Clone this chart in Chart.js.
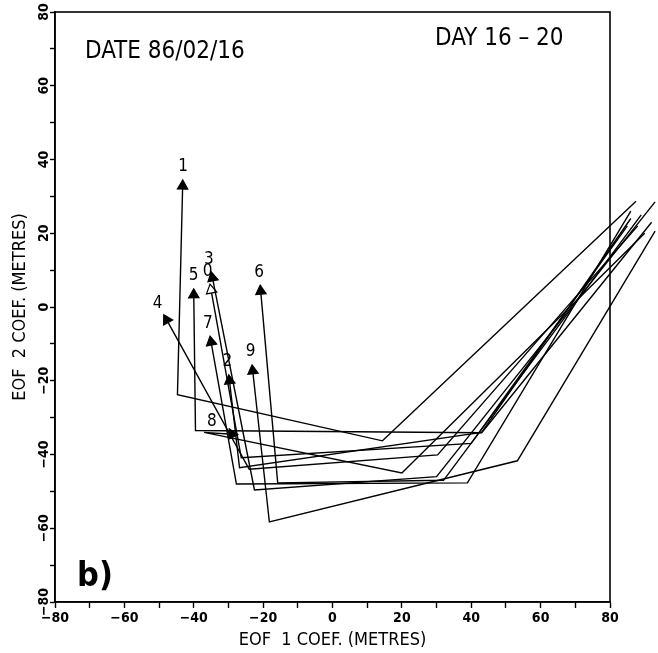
<!DOCTYPE html>
<html>
<head>
<meta charset="utf-8">
<script src="https://cdn.jsdelivr.net/npm/chart.js@4/dist/chart.umd.min.js"></script>
<style>
  html, body { margin: 0; background: #fff; }
  #wrap { width: 658px; height: 653px; }
</style>
</head>
<body>
<div id="wrap"><canvas id="eof-chart"></canvas></div>
<script>
// Trajektorie (den 16 -> 20)
const trackNames = ['1', '2', '3', '4', '5', '6', '7', '8', '9', '0'];
const eof1Coef = [
    [87.5, 14.4, -44.7, -43.2],
    [86, 43, -26.8, -29.7],
    [93, 30, -22.5, -34.6],
    [88, 30.3, -24, -47.8],
    [92, 43, -39.5, -40],
    [89, 32, -15.8, -20.7],
    [86, 38.9, -27.7, -35],
    [90, 20, -37, -29],
    [93, 53.3, -18.2, -23],
    [85, 40, -26.3, -35]
];
const eof2Coef = [
    [28.7, -36.3, -23.8, 32.8],
    [24, -34, -43.6, -20],
    [28.5, -46, -49.6, 7.9],
    [22, -40.1, -44, -3.5],
    [23, -34.1, -33.5, 3.3],
    [25, -47, -47.7, 4.3],
    [26, -47.7, -48, -9.5],
    [20, -45, -34, -34.5],
    [20.6, -41.7, -58.3, -17.3],
    [22, -37, -40.9, 4.6]
];
const axisTicks = [-80, -60, -40, -20, 0, 20, 40, 60, 80];
const hollowTracks = ['0'];

const FONT = '"DejaVu Sans Condensed", "DejaVu Sans", sans-serif';

function fmt(v) {
    return v < 0 ? '\u2212' + Math.abs(v) : String(v);
}

// Úhel šipky z posledního úseku trajektorie
function arrowAngle(chart, ds) {
    const n = ds.data.length;
    const a = ds.data[n - 2], b = ds.data[n - 1];
    const xs = chart.scales.x, ys = chart.scales.y;
    const dx = xs.getPixelForValue(b.x) - xs.getPixelForValue(a.x);
    const dy = ys.getPixelForValue(b.y) - ys.getPixelForValue(a.y);
    return { deg: Math.atan2(dx, -dy) * 180 / Math.PI, dx: dx, dy: dy };
}

const datasets = trackNames.map((name, i) => {
    const hollow = hollowTracks.includes(name);
    return {
        label: name,
        data: eof1Coef[i].map((x, j) => ({ x: x, y: eof2Coef[i][j] })),
        showLine: true,
        borderColor: '#000',
        borderWidth: 1.4,
        clip: false,
        pointStyle: 'triangle',
        pointBackgroundColor: hollow ? '#fff' : '#000',
        pointBorderColor: '#000',
        pointBorderWidth: 1.2,
        pointRadius: ctx => ctx.dataIndex === ctx.dataset.data.length - 1 ? 6 : 0,
        pointHoverRadius: 0,
        pointRotation: ctx => {
            if (ctx.dataIndex !== ctx.dataset.data.length - 1) return 0;
            return arrowAngle(ctx.chart, ctx.dataset).deg;
        }
    };
});

// Popisky čísel trajektorií, text v rozích a otočené popisky osy y
const annotationPlugin = {
    id: 'annotations',
    afterDatasetsDraw(chart) {
        const ctx = chart.ctx;
        const area = chart.chartArea;
        const xs = chart.scales.x, ys = chart.scales.y;
        ctx.save();
        ctx.fillStyle = '#000';
        ctx.strokeStyle = '#000';

        // rámeček
        ctx.lineWidth = 1.6;
        ctx.strokeRect(area.left, area.top, area.right - area.left, area.bottom - area.top);

        // čísla trajektorií
        ctx.font = '17px ' + FONT;
        ctx.textAlign = 'center';
        ctx.textBaseline = 'middle';
        chart.data.datasets.forEach(ds => {
            const last = ds.data[ds.data.length - 1];
            const px = xs.getPixelForValue(last.x);
            const py = ys.getPixelForValue(last.y);
            const ang = arrowAngle(chart, ds);
            const len = Math.hypot(ang.dx, ang.dy) || 1;
            let ox, oy;
            if (ang.dy > 0) {
                ox = -20; oy = -13;
            } else {
                ox = ang.dx / len * 19;
                oy = ang.dy / len * 19;
            }
            ctx.fillText(ds.label, px + ox, py + oy);
        });

        // texty v grafu
        ctx.textAlign = 'left';
        ctx.textBaseline = 'alphabetic';
        ctx.font = '24px ' + FONT;
        ctx.fillText('DATE 86/02/16', area.left + 30, area.top + 46);
        ctx.fillText('DAY 16 \u2013 20', area.left + 380, area.top + 33);
        ctx.font = 'bold 34px ' + FONT;
        ctx.fillText('b)', area.left + 22, area.bottom - 16);

        // popisky osy y (otočené)
        ctx.font = 'bold 14px ' + FONT;
        ctx.textAlign = 'center';
        ctx.textBaseline = 'middle';
        axisTicks.forEach(v => {
            const py = ys.getPixelForValue(v);
            ctx.save();
            ctx.translate(area.left - 11, py);
            ctx.rotate(-Math.PI / 2);
            ctx.fillText(fmt(v), 0, 0);
            ctx.restore();
        });
        ctx.restore();
    }
};

const canvas = document.getElementById('eof-chart');
if (typeof Chart !== 'undefined') {
    canvas._chart = new Chart(canvas.getContext('2d'), {
        type: 'scatter',
        data: { datasets: datasets },
        options: {
            responsive: true,
            maintainAspectRatio: false,
            animation: false,
            events: [],
            layout: { padding: { top: 12, right: 48, left: 0, bottom: 0 } },
            plugins: {
                legend: { display: false },
                tooltip: { enabled: false }
            },
            scales: {
                x: {
                    type: 'linear',
                    min: -80,
                    max: 80,
                    afterFit: scale => { scale.height = 51; },
                    border: { display: true, color: '#000', width: 1.6 },
                    grid: { display: true, drawOnChartArea: false, color: '#000', tickLength: 6, tickWidth: 1.4 },
                    ticks: {
                        stepSize: 10,
                        color: '#000',
                        padding: 2,
                        maxRotation: 0,
                        autoSkip: false,
                        font: { family: FONT, size: 14, weight: 'bold' },
                        callback: v => axisTicks.includes(v) ? fmt(v) : ''
                    },
                    title: {
                        display: true,
                        text: 'EOF  1 COEF. (METRES)',
                        color: '#000',
                        font: { family: FONT, size: 18 },
                        padding: { top: 0, bottom: 2 }
                    }
                },
                y: {
                    type: 'linear',
                    min: -80,
                    max: 80,
                    afterFit: scale => { scale.width = 55; },
                    border: { display: true, color: '#000', width: 1.6 },
                    grid: { display: true, drawOnChartArea: false, color: '#000', tickLength: 5, tickWidth: 1.4 },
                    ticks: {
                        stepSize: 10,
                        autoSkip: false,
                        callback: () => ''
                    },
                    title: {
                        display: true,
                        text: 'EOF  2 COEF. (METRES)',
                        color: '#000',
                        font: { family: FONT, size: 18 },
                        padding: { top: 10, bottom: 0 }
                    }
                }
            }
        },
        plugins: [annotationPlugin]
    });
} else {
    console.error('Chart.js není načtený.');
}
</script>
</body>
</html>
